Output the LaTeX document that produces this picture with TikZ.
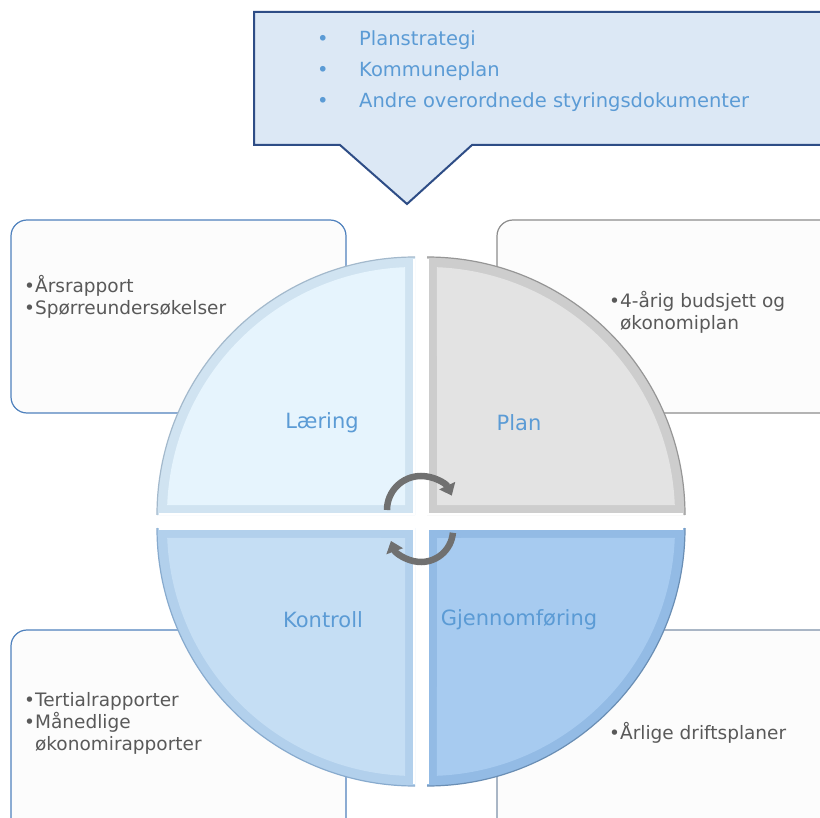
\documentclass[tikz,border=0pt]{standalone}
\usepackage{fontspec}
\setmainfont{DejaVu Sans}
\usetikzlibrary{arrows.meta}

\definecolor{calloutfill}{HTML}{DCE8F5}
\definecolor{calloutedge}{HTML}{2E4D86}
\definecolor{textblue}{HTML}{5B9BD5}
\definecolor{textgray}{HTML}{595959}
\definecolor{boxfill}{HTML}{FCFCFC}
\definecolor{boxblue}{HTML}{4F81BD}
\definecolor{boxgray}{HTML}{8C8C8C}
\definecolor{boxmix}{HTML}{7D90A8}
\definecolor{arrowgray}{HTML}{707070}
% quarter colours
\definecolor{laerface}{HTML}{E6F4FD}
\definecolor{laerrim}{HTML}{D0E3F1}
\definecolor{laeredge}{HTML}{A3B9CC}
\definecolor{planface}{HTML}{E3E3E3}
\definecolor{planrim}{HTML}{CDCDCD}
\definecolor{planedge}{HTML}{969696}
\definecolor{kontface}{HTML}{C5DEF4}
\definecolor{kontrim}{HTML}{B2D0EC}
\definecolor{kontedge}{HTML}{88ABCE}
\definecolor{gjenface}{HTML}{A7CBF0}
\definecolor{gjenrim}{HTML}{93BBE5}
\definecolor{gjenedge}{HTML}{6A8EB4}

\newcommand\callbullet{\makebox[42pt][l]{\textbullet}}

\begin{document}
\begin{tikzpicture}[
  x=1pt, y=-1pt,
  rim/.store in=\rimcolor,
  face/.store in=\facecolor,
  edge/.store in=\edgecolor,
  quadrant/.pic={
    \fill[\rimcolor] (0,0) -- (258,0) arc (0:90:258) -- cycle;
    \fill[\facecolor] (10,10) -- (2.31:248) arc (2.31:87.69:248) -- cycle;
    \draw[white, line width=1.5pt] (256,1) -- (1,1) -- (1,256);
    \draw[\edgecolor, line width=1.2pt] (258,0) arc (0:90:258);
  },
  infobox/.style={fill=boxfill, line width=1.2pt, rounded corners=16pt},
  boxtext/.style={anchor=base west, inner sep=0pt, align=left, text=textgray,
    font=\fontsize{18.5}{22}\selectfont},
  stagelabel/.style={text=textblue, font=\fontsize{21}{24}\selectfont},
  cyclearrow/.style={arrowgray, line width=6.5pt,
    -{Triangle[length=11pt, width=17pt]}},
]
  \clip (0,0) rectangle (820,818);

  % boxes behind the circle
  \draw[infobox, draw=boxblue] (11,220) rectangle (346,413);
  \draw[infobox, draw=boxgray] (497,220) rectangle (850,413);
  \draw[infobox, draw=boxblue] (11,630) rectangle (346,850);
  \draw[infobox, draw=boxmix] (497,630) rectangle (850,850);

  % base anchor = last line
  \node[boxtext] (laeringtxt) at (24,315)
    {•Årsrapport\\•Spørreundersøkelser};
  \node[boxtext] (plantxt) at (609,330)
    {•4-årig budsjett og\\\phantom{•}økonomiplan};
  \node[boxtext] (kontrolltxt) at (24,750)
    {•Tertialrapporter\\•Månedlige\\\phantom{•}økonomirapporter};
  \node[boxtext] (gjennomtxt) at (609,739) {•Årlige driftsplaner};

  % the four quarters
  \pic[rotate=180, rim=laerrim, face=laerface, edge=laeredge]
    at (415,515) {quadrant};
  \pic[rotate=90, rim=planrim, face=planface, edge=planedge]
    at (427,515) {quadrant};
  \pic[rotate=270, rim=kontrim, face=kontface, edge=kontedge]
    at (415,528) {quadrant};
  \pic[rim=gjenrim, face=gjenface, edge=gjenedge]
    at (427,528) {quadrant};

  \node[stagelabel] (laering) at (322,423) {Læring};
  \node[stagelabel] (plan) at (519,423) {Plan};
  \node[stagelabel] (kontroll) at (323,620) {Kontroll};
  \node[stagelabel] (gjennomforing) at (519,620) {Gjennomføring};

  \draw[cyclearrow] ([shift={(421,510)}]180:34) arc (180:335:34);
  \draw[cyclearrow] ([shift={(421,530)}]5:32) arc (5:160:32);

  % callout on top
  \draw[fill=calloutfill, draw=calloutedge, line width=2pt]
    (254,12) -- (840,12) -- (840,145) -- (472,145) -- (407,204)
    -- (340,145) -- (254,145) -- cycle;
  \node[anchor=base west, inner sep=0pt, align=left, text=textblue,
    font=\fontsize{19.5}{31}\selectfont] (callout) at (317,108)
    {\callbullet Planstrategi\\\callbullet Kommuneplan\\%
     \callbullet Andre overordnede styringsdokumenter};
\end{tikzpicture}
\end{document}
